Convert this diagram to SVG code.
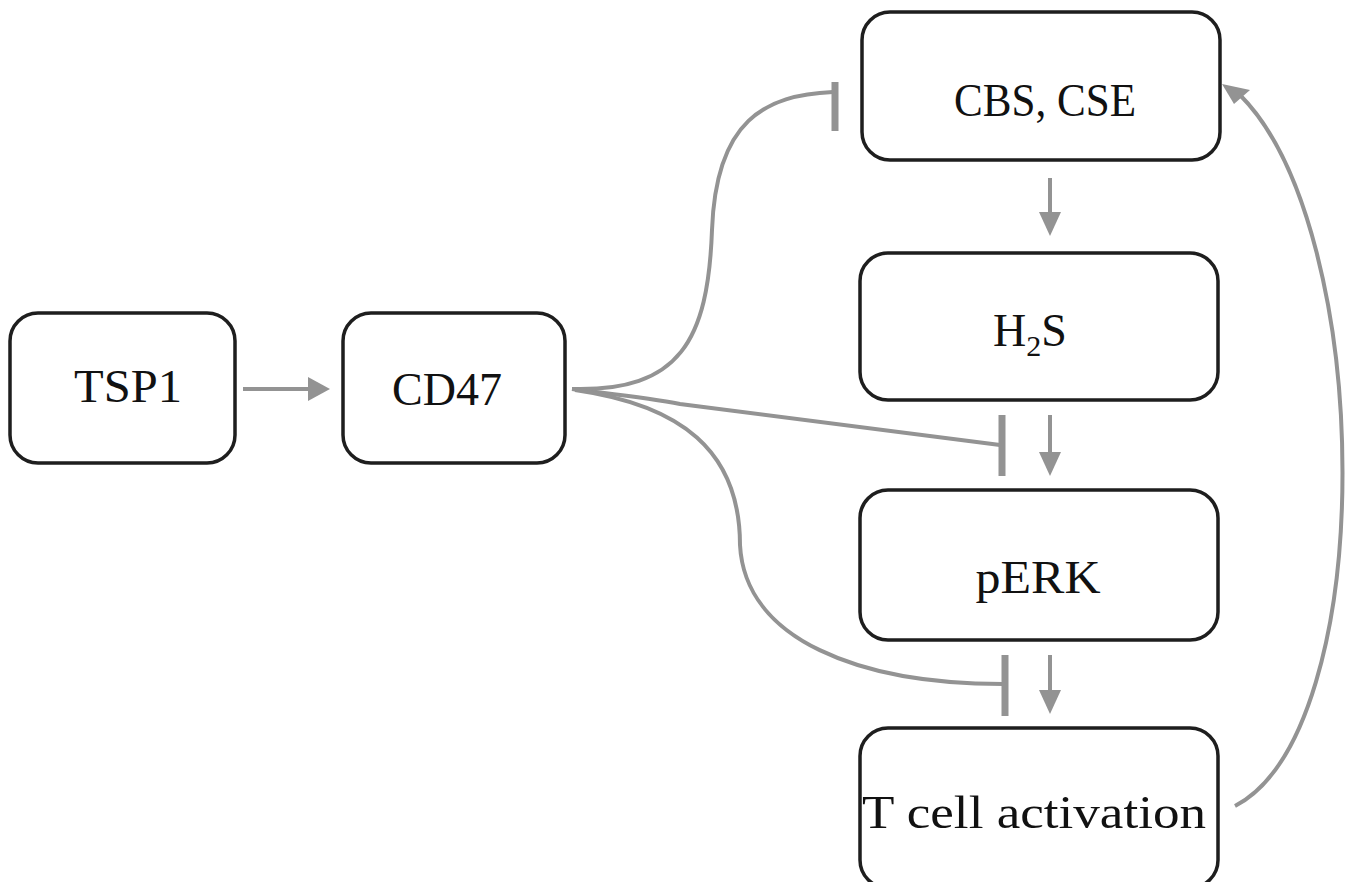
<svg xmlns="http://www.w3.org/2000/svg" width="1358" height="882" viewBox="0 0 1358 882">
<defs>
<style>
.box{fill:#fff;stroke:#1e1e1e;stroke-width:3.5}
.lbl{font-family:"Liberation Serif","DejaVu Serif",serif;font-size:46px;fill:#111;text-anchor:middle}
.ln{fill:none;stroke:#939393;stroke-width:4}
.bar{stroke:#939393;stroke-width:7}
.head{fill:#939393}
</style>
</defs>
<rect width="1358" height="882" fill="#fff"/>
<g id="connectors">
<line class="ln" x1="243" y1="389" x2="310" y2="389"/>
<path class="head" d="M308,377 L330,389 L308,401 z"/>
<line class="ln" x1="1050" y1="178" x2="1050" y2="215"/>
<path class="head" d="M1039,212 L1061,212 L1050,236 z"/>
<line class="ln" x1="1050" y1="415" x2="1050" y2="455"/>
<path class="head" d="M1039,452 L1061,452 L1050,476 z"/>
<line class="ln" x1="1050" y1="655" x2="1050" y2="693"/>
<path class="head" d="M1039,690 L1061,690 L1050,714 z"/>
<path class="ln" d="M572,389 C680,392 708,340 712,230 C716,120 765,95 833,92"/>
<line class="bar" x1="835" y1="82" x2="835" y2="131"/>
<path class="ln" d="M572,389 C620,395 650,398 680,404 C800,420 900,432 1000,445"/>
<line class="bar" x1="1002" y1="415" x2="1002" y2="476"/>
<path class="ln" d="M575,390 C680,405 740,450 740,545 C745,640 860,684 1003,684"/>
<line class="bar" x1="1005" y1="655" x2="1005" y2="716"/>
<path class="ln" d="M1235,806 C1380,730 1375,230 1240,95"/>
<path class="head" d="M1222,84 L1250,90 L1234,104 z"/>
</g>
<g id="tsp1">
<rect class="box" x="10" y="313" width="225" height="150" rx="28"/>
<text class="lbl" x="128" y="402" textLength="108" lengthAdjust="spacingAndGlyphs">TSP1</text>
</g>
<g id="cd47">
<rect class="box" x="343" y="313" width="222" height="150" rx="28"/>
<text class="lbl" x="447" y="405" textLength="110" lengthAdjust="spacingAndGlyphs">CD47</text>
</g>
<g id="cbs">
<rect class="box" x="862" y="12" width="358" height="148" rx="28"/>
<text class="lbl" x="1045" y="116" textLength="182" lengthAdjust="spacingAndGlyphs">CBS, CSE</text>
</g>
<g id="h2s">
<rect class="box" x="860" y="253" width="358" height="147" rx="28"/>
<text class="lbl" x="1030" y="346">H<tspan font-size="30" dy="10">2</tspan><tspan dy="-10">S</tspan></text>
</g>
<g id="perk">
<rect class="box" x="860" y="490" width="358" height="150" rx="28"/>
<text class="lbl" x="1038" y="593" textLength="125" lengthAdjust="spacingAndGlyphs">pERK</text>
</g>
<g id="tcell">
<rect class="box" x="860" y="728" width="358" height="160" rx="28"/>
<text class="lbl" x="1034" y="828" textLength="344" lengthAdjust="spacingAndGlyphs">T cell activation</text>
</g>
</svg>
